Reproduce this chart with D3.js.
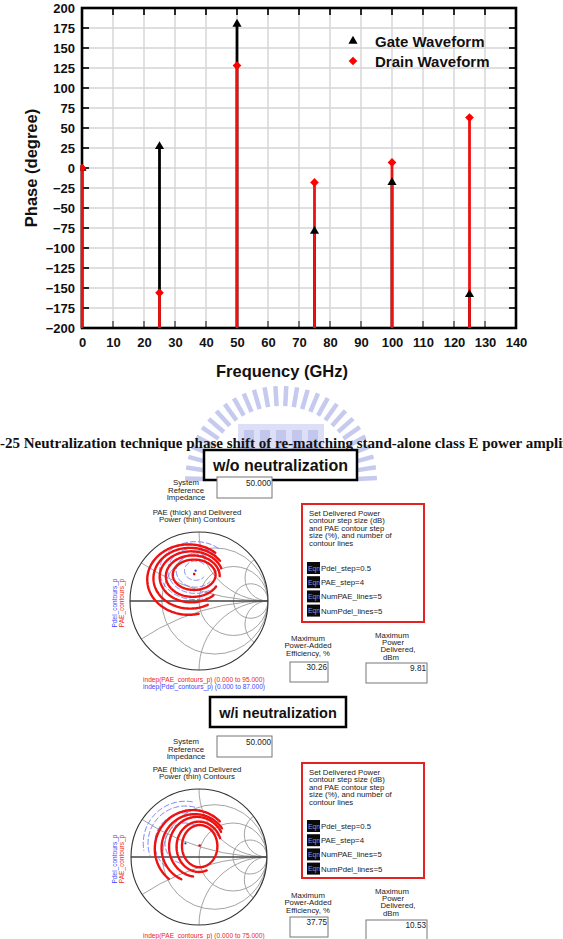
<!DOCTYPE html>
<html><head><meta charset="utf-8">
<script src="https://cdn.jsdelivr.net/npm/d3@7"></script>
<style>body{margin:0;background:#fff}svg{display:block}</style>
</head><body><svg id="c" width="563" height="939" font-family='"Liberation Sans",Arial,sans-serif'></svg>
<script>
// ---------- data ----------
const freqs = [0, 25, 50, 75, 100, 125];
const gatePhase = [0, 27, 180, -79, -18, -158];
const drainPhase = [0, -156, 128, -18, 7, 63];
const xTicks = [0,10,20,30,40,50,60,70,80,90,100,110,120,130,140];
const yTicks = [-200,-175,-150,-125,-100,-75,-50,-25,0,25,50,75,100,125,150,175,200];
const seriesNames = ["Gate Waveform", "Drain Waveform"];
const captionText = "-25 Neutralization technique phase shift of re-matching stand-alone class E power amplifier";

// Smith chart panels (ADS screenshots)
const panelTitles = ["w/o neutralization", "w/i neutralization"];
const refImpedance = ["50.000", "50.000"];
const maxPAE = ["30.26", "37.75"];
const maxPdel = ["9.81", "10.53"];
const paeRange = ["(0.000 to 95.000)", "(0.000 to 75.000)"];
const pdelRange = ["(0.000 to 87.000)", "(0.000 to 68.000)"];
const eqnLines = ["Pdel_step=0.5", "PAE_step=4", "NumPAE_lines=5", "NumPdel_lines=5"];
const setText = ["Set Delivered Power", "contour step size (dB)", "and PAE contour step", "size (%), and number of", "contour lines"];
const resistances = [0.3, 1, 3];
const reactances = [0.3, 1, 3, -0.3, -1, -3];
// PAE contours: [cx, cy, rx, ry, startDeg, endDeg] in reflection-coefficient units
const paeContours1 = [[-0.07,0.38,0.31,0.22,0,360],[-0.09,0.36,0.39,0.30,0,330],[-0.11,0.35,0.46,0.37,20,315],[-0.13,0.33,0.53,0.44,35,300],[-0.15,0.31,0.60,0.51,50,285]];
const pdelContours1 = [[-0.05,0.44,0.16,0.14,40,320],[-0.05,0.44,0.28,0.24,30,320],[-0.05,0.44,0.40,0.33,40,300],[-0.05,0.44,0.52,0.42,50,290]];
const paeContours2 = [[0.01,0.16,0.26,0.31,0,360],[0.0,0.15,0.33,0.37,20,290],[-0.03,0.15,0.41,0.44,30,262],[-0.06,0.13,0.49,0.50,36,246],[-0.09,0.12,0.56,0.57,45,232]];
const pdelContours2 = [[-0.2,0.2,0.30,0.30,60,260],[-0.2,0.2,0.45,0.45,70,230],[-0.2,0.2,0.55,0.55,75,200],[-0.2,0.2,0.62,0.62,80,190]];
const optPAE = [[-0.07,0.39],[0.01,0.17]];
const optPdel = [[-0.05,0.44],[-0.2,0.2]];

// ---------- drawing ----------
const svg = d3.select("#c");

// watermark (faint emblem)
const wm = svg.append("g").attr("fill", "#c6caee");
const wmc = [281, 482];
d3.range(182, 360, 6.5).forEach(a => {
  wm.append("rect").attr("x", -2.5).attr("y", 76).attr("width", 4.5).attr("height", 20)
    .attr("transform", `translate(${wmc[0]},${wmc[1]}) rotate(${a - 90})`);
});
wm.append("rect").attr("x", 238).attr("y", 424).attr("width", 86).attr("height", 42).attr("fill", "#dcdff5");
d3.range(0, 5).forEach(i => wm.append("rect").attr("x", 244 + i * 16).attr("y", 430).attr("width", 10).attr("height", 30).attr("fill", "#c3c7ed"));

// ---------- main stem chart ----------
const x = d3.scaleLinear().domain([0, 140]).range([82, 516]);
const y = d3.scaleLinear().domain([-200, 200]).range([328, 8]);
const main = svg.append("g");

main.append("clipPath").attr("id", "plotclip").append("rect")
  .attr("x", x(0) - 1.5).attr("y", y(200)).attr("width", x(140) - x(0) + 1.5).attr("height", y(-200) - y(200));

// grid
main.append("g").selectAll("line").data(xTicks.slice(1, -1)).join("line")
  .attr("x1", d => x(d)).attr("x2", d => x(d)).attr("y1", y(200)).attr("y2", y(-200))
  .attr("stroke", "#d4d4d4").attr("stroke-width", 1.4);
main.append("g").selectAll("line").data(yTicks.slice(1, -1)).join("line")
  .attr("y1", d => y(d)).attr("y2", d => y(d)).attr("x1", x(0)).attr("x2", x(140))
  .attr("stroke", "#d4d4d4").attr("stroke-width", 1.4);

// ticks (inward)
const tk = main.append("g").attr("stroke", "#2a2a2a").attr("stroke-width", 2);
tk.selectAll(".tl").data(yTicks).join("line").attr("x1", x(0)).attr("x2", x(0) + 7).attr("y1", d => y(d)).attr("y2", d => y(d));
tk.selectAll(".tr").data(yTicks).join("line").attr("x1", x(140)).attr("x2", x(140) - 7).attr("y1", d => y(d)).attr("y2", d => y(d));
tk.selectAll(".tt").data(xTicks).join("line").attr("y1", y(200)).attr("y2", y(200) + 7).attr("x1", d => x(d)).attr("x2", d => x(d));
tk.selectAll(".tb").data(xTicks).join("line").attr("y1", y(-200)).attr("y2", y(-200) - 7).attr("x1", d => x(d)).attr("x2", d => x(d)).attr("stroke", "#777");

// frame
main.append("rect").attr("x", x(0)).attr("y", y(200)).attr("width", x(140) - x(0)).attr("height", y(-200) - y(200))
  .attr("fill", "none").attr("stroke", "#000").attr("stroke-width", 2.6);

// stems
const stems = main.append("g").attr("clip-path", "url(#plotclip)");
stems.selectAll(".gs").data(freqs).join("line")
  .attr("x1", d => x(d)).attr("x2", d => x(d)).attr("y1", y(-200)).attr("y2", (d, i) => y(gatePhase[i]))
  .attr("stroke", "#000").attr("stroke-width", 2.8);
stems.selectAll(".ds").data(freqs).join("line")
  .attr("x1", d => x(d)).attr("x2", d => x(d)).attr("y1", y(-200)).attr("y2", (d, i) => y(drainPhase[i]))
  .attr("stroke", "#ee1111").attr("stroke-width", 2.8);
const tri = d3.symbol(d3.symbolTriangle, 36);
const dia = d3.symbol(d3.symbolSquare, 38);
stems.selectAll(".gm").data(freqs).join("path").attr("d", tri)
  .attr("transform", (d, i) => `translate(${x(d)},${y(gatePhase[i])})`).attr("fill", "#000");
stems.selectAll(".dm").data(freqs).join("path").attr("d", dia)
  .attr("transform", (d, i) => `translate(${x(d)},${y(drainPhase[i])}) rotate(45)`).attr("fill", "#f00");

// axis labels
const yAxis = main.append("g").attr("transform", `translate(${x(0)},0)`)
  .call(d3.axisLeft(y).tickValues(yTicks).tickSize(0).tickPadding(7).tickFormat(d3.format("d")));
const xAxis = main.append("g").attr("transform", `translate(0,${y(-200)})`)
  .call(d3.axisBottom(x).tickValues(xTicks).tickSize(0).tickPadding(10).tickFormat(d3.format("d")));
[yAxis, xAxis].forEach(a => {
  a.select(".domain").remove();
  a.selectAll("text").attr("font-family", '"Liberation Sans",Arial,sans-serif').attr("font-weight", "bold")
    .attr("font-size", 13).attr("fill", "#111");
});
main.append("text").attr("x", 282).attr("y", 377).attr("text-anchor", "middle")
  .attr("font-weight", "bold").attr("font-size", 16.5).attr("fill", "#111").text("Frequency (GHz)");
main.append("text").attr("transform", "translate(37,168) rotate(-90)").attr("text-anchor", "middle")
  .attr("font-weight", "bold").attr("font-size", 16.5).attr("fill", "#111").text("Phase (degree)");

// legend
const lg = main.append("g");
lg.append("path").attr("d", tri).attr("transform", "translate(353,41)").attr("fill", "#000");
lg.append("path").attr("d", dia).attr("transform", "translate(353,61) rotate(45)").attr("fill", "#f00");
lg.selectAll("text").data(seriesNames).join("text").attr("x", 375).attr("y", (d, i) => 46.5 + i * 20)
  .attr("font-weight", "bold").attr("font-size", 15).attr("fill", "#111").text(d => d);

// caption
svg.append("text").attr("x", 0).attr("y", 448).attr("font-family", '"Liberation Serif","Times New Roman",serif')
  .attr("font-weight", "bold").attr("font-size", 15).attr("fill", "#111").text(captionText);

// ---------- ADS panels ----------
function smith(g, cx, cy, R, pae, pdel, oPae, oPdel, id) {
  const sx = d3.scaleLinear().domain([-1, 1]).range([cx - R, cx + R]);
  const sy = d3.scaleLinear().domain([-1, 1]).range([cy + R, cy - R]);
  g.append("circle").attr("cx", cx).attr("cy", cy).attr("r", R).attr("fill", "#fff");
  g.append("clipPath").attr("id", id).append("circle").attr("cx", cx).attr("cy", cy).attr("r", R);
  const grid = g.append("g").attr("clip-path", `url(#${id})`).attr("fill", "none").attr("stroke", "#999").attr("stroke-width", 0.9);
  grid.selectAll(".r").data(resistances).join("circle")
    .attr("cx", r => sx(r / (1 + r))).attr("cy", cy).attr("r", r => sx(1 / (1 + r)) - sx(0));
  grid.selectAll(".x").data(reactances).join("circle")
    .attr("cx", sx(1)).attr("cy", v => sy(1 / v)).attr("r", v => sx(1 / Math.abs(v)) - sx(0));
  g.append("line").attr("x1", sx(-1)).attr("x2", sx(1)).attr("y1", cy).attr("y2", cy).attr("stroke", "#444").attr("stroke-width", 1.3);
  g.append("circle").attr("cx", cx).attr("cy", cy).attr("r", R).attr("fill", "none").attr("stroke", "#333").attr("stroke-width", 1.1);
  const arc = c => d3.line()(d3.range(c[4], c[5] + 1, 2).map(a => {
    const t = a * Math.PI / 180;
    return [sx(c[0] + c[2] * Math.cos(t)), sy(c[1] + c[3] * Math.sin(t))];
  }));
  const cg = g.append("g").attr("clip-path", `url(#${id})`).attr("fill", "none");
  cg.selectAll(".pd").data(pdel).join("path").attr("d", arc).attr("stroke", "#7070ff").attr("stroke-width", 0.9).attr("stroke-dasharray", "6,2");
  cg.selectAll(".pa").data(pae).join("path").attr("d", arc).attr("stroke", "#ee1111").attr("stroke-width", 2.4).attr("stroke-linecap", "round");
  g.append("circle").attr("cx", sx(oPae[0])).attr("cy", sy(oPae[1])).attr("r", 1.3).attr("fill", "#e00");
  g.append("circle").attr("cx", sx(oPdel[0])).attr("cy", sy(oPdel[1])).attr("r", 1.1).attr("fill", "#33f");
}

function panel(i, L) {
  const g = svg.append("g");
  // title box
  g.append("rect").attr("x", L.tb[0]).attr("y", L.tb[1]).attr("width", L.tb[2]).attr("height", 30)
    .attr("fill", "#fff").attr("stroke", "#000").attr("stroke-width", 2.5);
  g.append("text").attr("x", L.tb[0] + L.tb[2] / 2).attr("y", L.tb[1] + 21).attr("text-anchor", "middle")
    .attr("font-weight", "bold").attr("font-size", L.tfs).attr("fill", "#111").text(panelTitles[i]);
  const small = (xx, yy, t, anchor, col, fs) => g.append("text").attr("x", xx).attr("y", yy).attr("text-anchor", anchor || "start")
    .attr("font-size", fs || 7.8).attr("fill", col || "#222").text(t);
  // System reference impedance
  ["System", "Reference", "Impedance"].forEach((t, k) => small(186, L.sys + 3 + k * 7.5, t, "middle"));
  g.append("rect").attr("x", 217).attr("y", L.sys - 5).attr("width", 55).attr("height", 21).attr("fill", "#fff").attr("stroke", "#777").attr("stroke-width", 1);
  small(271, L.sys + 4, refImpedance[i], "end", "#222", 8.2);
  ["PAE (thick) and Delivered", "Power (thin) Contours"].forEach((t, k) => small(197, L.pae + 3 + k * 7.3, t, "middle"));
  // smith chart
  smith(g, 199, L.sc, L.R, L.pc, L.dc, optPAE[i], optPdel[i], "sc" + i);
  g.append("text").attr("transform", `translate(117,${L.sc + 2}) rotate(-90)`).attr("text-anchor", "middle")
    .attr("font-size", 6.5).attr("fill", "#4444ff").text("Pdel_contours_p");
  g.append("text").attr("transform", `translate(123.5,${L.sc + 2}) rotate(-90)`).attr("text-anchor", "middle")
    .attr("font-size", 6.5).attr("fill", "#ee2222").text("PAE_contours_p");
  small(143, L.ind + 2.5, "indep(PAE_contours_p) " + paeRange[i], "start", "#ee2222", 6.6);
  small(143, L.ind + 9.5, "indep(Pdel_contours_p) " + pdelRange[i], "start", "#4444ff", 6.6);
  // red settings box
  g.append("rect").attr("x", 302).attr("y", L.rb[0]).attr("width", 122).attr("height", L.rb[1])
    .attr("fill", "#fff").attr("stroke", "#e52222").attr("stroke-width", 2);
  setText.forEach((t, k) => small(309, L.rb[0] + 12 + k * 7.4, t));
  eqnLines.forEach((t, k) => {
    const yy = L.eq + k * 14.2;
    g.append("rect").attr("x", 307).attr("y", yy - 6).attr("width", 13).attr("height", 12).attr("fill", "#0a0a0a");
    small(308, yy + 2.5, "Eqn", "start", "#8a95d8", 6.8);
    small(321, yy + 3, t, "start", "#222", 7.8);
  });
  // max PAE
  ["Maximum", "Power-Added", "Efficiency, %"].forEach((t, k) => small(308, L.mp + 3 + k * 7.4, t, "middle"));
  g.append("rect").attr("x", 290).attr("y", L.mpb).attr("width", 38).attr("height", 20).attr("fill", "#fff").attr("stroke", "#777");
  small(327, L.mpb + 8, maxPAE[i], "end", "#222", 8.2);
  ["Maximum", "Power", "Delivered,", "dBm"].forEach((t, k) => small([392, 393, 398, 391][k], L.md + 3 + k * 7.2, t, "middle"));
  g.append("rect").attr("x", 366).attr("y", L.mdb).attr("width", 61).attr("height", 20).attr("fill", "#fff").attr("stroke", "#777");
  small(426, L.mdb + 8, maxPdel[i], "end", "#222", 8.2);
}

panel(0, {tb: [204, 450, 153], tfs: 16, sys: 482, pae: 512, sc: 601, R: 69, pc: paeContours1, dc: pdelContours1,
  ind: 679, rb: [504, 118], eq: 568, mp: 638, mpb: 662, md: 635, mdb: 663});
panel(1, {tb: [210, 697, 136], tfs: 14.5, sys: 741, pae: 769, sc: 857, R: 68, pc: paeContours2, dc: pdelContours2,
  ind: 935, rb: [763, 115], eq: 826, mp: 895, mpb: 917, md: 891, mdb: 920});
</script></body></html>
